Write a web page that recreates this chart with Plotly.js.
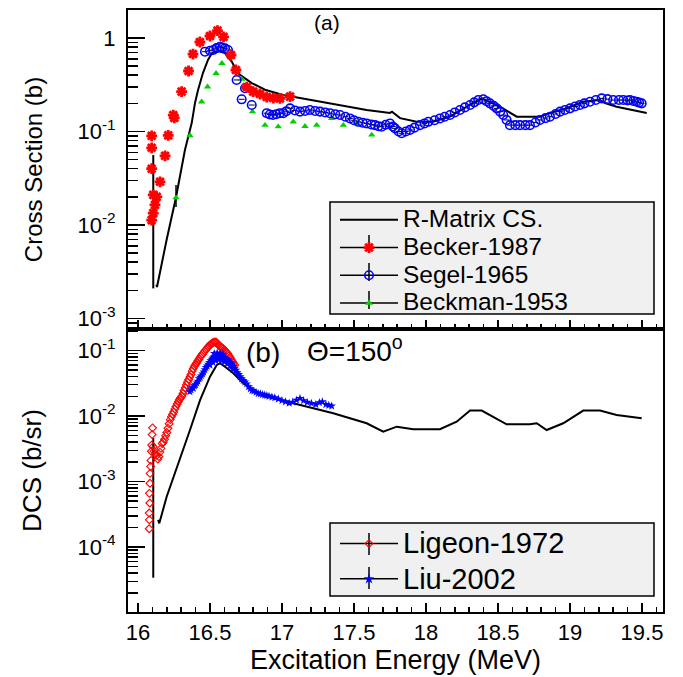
<!DOCTYPE html>
<html><head><meta charset="utf-8">
<script src="https://cdn.plot.ly/plotly-3.0.1.min.js"></script>
<style>html,body{margin:0;padding:0;background:#fff;} #chart{width:683px;height:677px;}</style>
</head><body><div id="chart"></div>
<script>
// ---------------- DATA ----------------
// Panel (a): cross sections (b)
const rmTopE  = [16.128,16.132,16.200,16.264,16.326,16.338,16.373,16.396,16.417,16.451,16.486,16.514,16.556,16.604,16.651,16.694,16.790,16.882,17.007,17.125,17.354,17.588,17.750,17.764,17.820,17.935,18.049,18.167,18.283,18.387,18.514,18.630,18.792,18.861,18.977,19.090,19.208,19.243,19.324,19.438,19.533];
const rmTopCS = [0.0023,0.00217,0.0071,0.0198,0.0634,0.0753,0.123,0.202,0.278,0.422,0.582,0.691,0.726,0.691,0.560,0.420,0.330,0.280,0.246,0.228,0.197,0.170,0.158,0.163,0.139,0.127,0.127,0.144,0.184,0.226,0.184,0.144,0.144,0.158,0.178,0.208,0.217,0.202,0.184,0.170,0.158];

const beckerE  = [16.095,16.106,16.118,16.130,16.106,16.095,16.095,16.095,16.153,16.188,16.210,16.245,16.252,16.303,16.351,16.382,16.430,16.500,16.552,16.594,16.646,16.680,16.755,16.800,16.847,16.894,16.940,16.986,17.056];
const beckerCS = [0.0113,0.0134,0.0164,0.020,0.021,0.040,0.067,0.090,0.029,0.055,0.091,0.150,0.140,0.267,0.444,0.674,0.906,1.05,1.20,1.03,0.658,0.455,0.299,0.267,0.252,0.234,0.228,0.226,0.236];
const beckerErrUp   = [0,0,0,0,0.035,0,0,0,0,0,0,0,0,0,0,0,0,0,0,0,0,0,0,0,0,0,0,0,0];
const beckerErrDown = [0,0,0,0,0.0189,0,0,0,0,0,0,0,0,0,0,0,0,0,0,0,0,0,0,0,0,0,0,0,0];

const segelE  = [16.465,16.500,16.523,16.545,16.569,16.585,16.604,16.625,16.685,16.720,16.743,16.790,16.894,16.915,16.9375,16.960,16.985,17.009,17.030,17.056,17.090,17.125,17.160,17.194,17.230,17.264,17.300,17.333,17.370,17.403,17.440,17.472,17.500,17.530,17.560,17.588,17.620,17.646,17.670,17.692,17.720,17.750,17.770,17.785,17.810,17.831,17.860,17.889,17.920,17.958,17.990,18.016,18.060,18.097,18.130,18.167,18.200,18.236,18.270,18.306,18.335,18.363,18.398,18.420,18.444,18.470,18.491,18.515,18.537,18.560,18.583,18.620,18.653,18.690,18.722,18.760,18.792,18.830,18.861,18.900,18.931,18.965,19.000,19.035,19.069,19.100,19.139,19.180,19.220,19.260,19.300,19.340,19.370,19.400,19.417,19.440,19.463,19.480,19.498];
const segelCS = [0.714,0.730,0.744,0.780,0.807,0.790,0.776,0.744,0.356,0.221,0.290,0.192,0.157,0.152,0.150,0.153,0.157,0.157,0.165,0.177,0.168,0.163,0.166,0.170,0.166,0.163,0.160,0.157,0.153,0.150,0.144,0.138,0.132,0.127,0.124,0.122,0.119,0.117,0.114,0.1125,0.118,0.122,0.113,0.108,0.100,0.0957,0.100,0.104,0.110,0.117,0.122,0.127,0.132,0.138,0.144,0.150,0.160,0.170,0.181,0.192,0.205,0.217,0.221,0.211,0.200,0.188,0.177,0.163,0.150,0.133,0.117,0.117,0.117,0.117,0.117,0.125,0.133,0.139,0.144,0.154,0.163,0.170,0.177,0.185,0.192,0.200,0.208,0.217,0.226,0.222,0.217,0.217,0.217,0.215,0.217,0.212,0.208,0.204,0.200];

const beckmanE  = [16.264,16.361,16.442,16.483,16.542,16.583,16.646,16.685,16.720,16.755,16.795,16.882,16.974,17.078,17.160,17.241,17.345,17.426,17.519,17.623];
const beckmanCS = [0.0196,0.0906,0.208,0.301,0.419,0.536,0.616,0.455,0.364,0.290,0.163,0.117,0.1125,0.127,0.1135,0.117,0.138,0.117,0.122,0.0918];
const beckmanErrUp   = [0.0072,0,0,0,0,0,0,0,0,0,0,0,0,0,0,0,0,0,0,0];
const beckmanErrDown = [0.0040,0,0,0,0,0,0,0,0,0,0,0,0,0,0,0,0,0,0,0];

// Panel (b): differential cross sections (b/sr), Theta = 150 deg
const rmBotE   = [16.140,16.148,16.199,16.292,16.361,16.431,16.500,16.547,16.569,16.604,16.662,16.731,16.824,16.940,17.078,17.217,17.356,17.472,17.588,17.703,17.797,17.912,18.097,18.213,18.306,18.387,18.467,18.560,18.722,18.769,18.838,18.953,19.092,19.208,19.324,19.440,19.498];
const rmBotDCS = [2.6e-4,2.3e-4,5.86e-4,2.2e-3,6.11e-3,0.0175,0.0398,0.0601,0.0638,0.0566,0.0449,0.0316,0.0235,0.0186,0.0156,0.0131,0.0110,0.00922,0.00774,0.00576,0.00687,0.00627,0.00627,0.00818,0.0121,0.0121,0.00975,0.00747,0.00747,0.00774,0.00611,0.00774,0.0121,0.0121,0.01035,0.00955,0.00922];

const ligeonE   = [16.078,16.079,16.078,16.082,16.079,16.083,16.084,16.088,16.090,16.093,16.095,16.098,16.101,16.106,16.112,16.120,16.130,16.138,16.145,16.152,16.160,16.168,16.176,16.184,16.192,16.200,16.208,16.216,16.224,16.232,16.240,16.248,16.256,16.264,16.272,16.280,16.288,16.296,16.304,16.312,16.320,16.328,16.336,16.344,16.352,16.360,16.368,16.376,16.384,16.392,16.400,16.408,16.416,16.424,16.432,16.440,16.448,16.456,16.464,16.472,16.480,16.488,16.496,16.504,16.512,16.520,16.528,16.536,16.544,16.552,16.560,16.568,16.576,16.584,16.592,16.600,16.608,16.616,16.624,16.632,16.640,16.648,16.656,16.664,16.672];
const ligeonDCS = [1.9e-4,2.6e-4,3.3e-4,4.7e-4,6.6e-4,9.4e-4,1.33e-3,1.7e-3,2.1e-3,2.9e-3,3.6e-3,5.2e-3,6.6e-3,3.4e-3,2.9e-3,2.6e-3,2.5e-3,2.2e-3,2.4e-3,2.8e-3,3.2e-3,3.8e-3,4.0e-3,4.4e-3,5.0e-3,5.6e-3,6.5e-3,7.6e-3,8.8e-3,9.7e-3,1.06e-2,1.15e-2,1.28e-2,1.40e-2,1.52e-2,1.65e-2,1.78e-2,1.90e-2,2.0e-2,2.2e-2,2.45e-2,2.7e-2,3.0e-2,3.3e-2,3.6e-2,3.95e-2,4.3e-2,4.85e-2,5.3e-2,5.75e-2,6.1e-2,6.5e-2,7.0e-2,7.4e-2,7.9e-2,8.4e-2,8.8e-2,9.3e-2,9.8e-2,0.103,0.108,0.114,0.119,0.124,0.128,0.131,0.134,0.135,0.134,0.128,0.121,0.116,0.113,0.110,0.106,0.101,0.097,0.093,0.089,0.083,0.078,0.072,0.068,0.064,0.060];
const ligeonErrUp   = [0,0,0,0,0,0,0,0,0,0,0,0,0,0.0012,0,0,0,0,0,0,0,0,0,0,0,0,0,0,0,0,0,0,0,0,0,0,0,0,0,0,0,0,0,0,0,0,0,0,0,0,0,0,0,0,0,0,0,0,0,0,0,0,0,0,0,0,0,0,0,0,0,0,0,0,0,0,0,0,0,0,0,0,0,0,0];
const ligeonErrDown = [0,0,0,0,0,0,0,0,0,0,0,0,0,0.003366,0,0,0,0,0,0,0,0,0,0,0,0,0,0,0,0,0,0,0,0,0,0,0,0,0,0,0,0,0,0,0,0,0,0,0,0,0,0,0,0,0,0,0,0,0,0,0,0,0,0,0,0,0,0,0,0,0,0,0,0,0,0,0,0,0,0,0,0,0,0,0];

const liuE   = [16.360,16.368,16.376,16.384,16.392,16.400,16.408,16.416,16.424,16.432,16.440,16.448,16.456,16.464,16.472,16.480,16.488,16.496,16.504,16.512,16.520,16.528,16.536,16.544,16.552,16.560,16.568,16.576,16.584,16.592,16.600,16.608,16.616,16.624,16.632,16.640,16.648,16.656,16.664,16.672,16.680,16.690,16.700,16.710,16.720,16.730,16.742,16.755,16.768,16.780,16.792,16.805,16.820,16.835,16.850,16.865,16.880,16.895,16.910,16.930,16.950,16.975,17.000,17.025,17.050,17.075,17.100,17.125,17.150,17.175,17.205,17.235,17.260,17.280,17.305,17.325,17.345,16.500,16.520,16.540,16.560,16.580,16.600,16.620,16.640,16.660,16.530,16.550,16.570,16.590];
const liuDCS = [0.0235,0.025,0.027,0.0265,0.029,0.030,0.032,0.034,0.037,0.039,0.041,0.044,0.047,0.051,0.055,0.058,0.062,0.066,0.070,0.074,0.077,0.080,0.082,0.083,0.084,0.083,0.082,0.081,0.080,0.078,0.077,0.075,0.073,0.071,0.069,0.066,0.063,0.060,0.057,0.053,0.050,0.046,0.043,0.040,0.037,0.035,0.033,0.031,0.028,0.026,0.0245,0.024,0.023,0.022,0.0218,0.0212,0.0208,0.0205,0.020,0.0195,0.019,0.0182,0.0172,0.0165,0.0157,0.0163,0.0175,0.0186,0.0172,0.0162,0.0156,0.0150,0.0160,0.0165,0.0150,0.0146,0.0142,0.060,0.066,0.070,0.072,0.070,0.067,0.063,0.058,0.052,0.090,0.092,0.090,0.088];

// Axis ticks and labels
const xTickVals = [16,16.5,17,17.5,18,18.5,19,19.5];
const xTickText = ['16','16.5','17','17.5','18','18.5','19','19.5'];
const yTopTickVals = [0.001,0.01,0.1,1];
const yTopTickText = ['10<sup>-3</sup>','10<sup>-2</sup>','10<sup>-1</sup>','1'];
const yBotTickVals = [0.0001,0.001,0.01,0.1];
const yBotTickText = ['10<sup>-4</sup>','10<sup>-3</sup>','10<sup>-2</sup>','10<sup>-1</sup>'];
const seriesNames = ['R-Matrix CS.','Becker-1987','Segel-1965','Beckman-1953','Ligeon-1972','Liu-2002'];

// ---------------- STYLE ----------------
const FONT = 'Liberation Sans, Arial, Helvetica, sans-serif';
function logMinors(lo, hi){ const v=[]; for(let e=lo;e<=hi;e++){ for(let m=2;m<=9;m++){ v.push(m*Math.pow(10,e)); } } return v; }

const RED='#ff0000', BLUE='#0000ff', GREEN='#00d000';
const mkBecker = {symbol:'asterisk', size:9, color:RED, line:{color:RED, width:2.8}};
const mkSegel  = {symbol:'circle-open', size:8.5, color:BLUE, line:{color:BLUE, width:1.6}};
const mkBeckman= {symbol:'triangle-up', size:6.5, color:GREEN, line:{width:0}};
const mkLigeon = {symbol:'diamond-open', size:6, color:RED, line:{color:RED, width:1.1}};
const mkLiu    = {symbol:'star', size:6.5, color:BLUE, line:{width:0}};

const nm = (s, fs) => '<span style="font-size:'+fs+'px">'+s+'</span>';

const traces = [
  {x:rmTopE, y:rmTopCS, type:'scatter', mode:'lines', line:{color:'#000', width:2}, xaxis:'x2', yaxis:'y', name:nm(seriesNames[0],24.5), legend:'legend', hoverinfo:'skip'},
  {x:beckmanE, y:beckmanCS, type:'scatter', mode:'markers', marker:mkBeckman, xaxis:'x2', yaxis:'y', showlegend:false,
   error_y:{type:'data', symmetric:false, array:beckmanErrUp, arrayminus:beckmanErrDown, color:'#000', thickness:1.5, width:0}},
  {x:segelE, y:segelCS, type:'scatter', mode:'markers', marker:mkSegel, xaxis:'x2', yaxis:'y', showlegend:false,
   error_x:{type:'constant', value:0.02, color:'#000', thickness:1, width:0}},
  {x:beckerE, y:beckerCS, type:'scatter', mode:'markers', marker:mkBecker, xaxis:'x2', yaxis:'y', showlegend:false,
   error_y:{type:'data', symmetric:false, array:beckerErrUp, arrayminus:beckerErrDown, color:'#000', thickness:2, width:0}},
  {x:rmBotE, y:rmBotDCS, type:'scatter', mode:'lines', line:{color:'#000', width:2}, xaxis:'x', yaxis:'y2', showlegend:false, hoverinfo:'skip'},
  {x:ligeonE, y:ligeonDCS, type:'scatter', mode:'markers', marker:mkLigeon, xaxis:'x', yaxis:'y2', showlegend:false,
   error_y:{type:'data', symmetric:false, array:ligeonErrUp, arrayminus:ligeonErrDown, color:'#000', thickness:2, width:0}},
  {x:liuE, y:liuDCS, type:'scatter', mode:'markers', marker:mkLiu, xaxis:'x', yaxis:'y2', showlegend:false},
  // legend entries (no data)
  {x:[null], y:[null], type:'scatter', mode:'lines+markers', line:{color:'#000', width:1.5}, marker:mkBecker, xaxis:'x2', yaxis:'y', name:nm(seriesNames[1],24.5), legend:'legend'},
  {x:[null], y:[null], type:'scatter', mode:'lines+markers', line:{color:'#000', width:1.5}, marker:mkSegel, xaxis:'x2', yaxis:'y', name:nm(seriesNames[2],24.5), legend:'legend'},
  {x:[null], y:[null], type:'scatter', mode:'lines+markers', line:{color:'#000', width:1.5}, marker:Object.assign({}, mkBeckman, {size:7}), xaxis:'x2', yaxis:'y', name:nm(seriesNames[3],24.5), legend:'legend'},
  {x:[null], y:[null], type:'scatter', mode:'lines+markers', line:{color:'#000', width:1.5}, marker:mkLigeon, xaxis:'x', yaxis:'y2', name:nm(seriesNames[4],29), legend:'legend2'},
  {x:[null], y:[null], type:'scatter', mode:'lines+markers', line:{color:'#000', width:1.5}, marker:Object.assign({}, mkLiu, {size:8}), xaxis:'x', yaxis:'y2', name:nm(seriesNames[5],29), legend:'legend2'}
];

const L = 128, R = 663, T = 10, B = 612, W = 683, H = 677;
const px = v => (v - L) / (R - L);
const py = v => (B - v) / (B - T);
const split = py(329);

const xCommon = {
  range:[15.9306, 19.646], tickmode:'array', tickvals:xTickVals, ticktext:xTickText,
  ticks:'inside', ticklen:9, tickwidth:1.5, tickcolor:'#000',
  minor:{ticks:'inside', ticklen:5, tickwidth:1.5, tickcolor:'#000', tickmode:'linear', tick0:16, dtick:0.1, showgrid:false},
  showline:true, linewidth:2, linecolor:'#000', mirror:true, showgrid:false, zeroline:false,
  tickfont:{family:FONT, size:22, color:'#000'}
};
const yCommon = {
  type:'log', tickmode:'array', ticks:'inside', ticklen:17, tickwidth:1.5, tickcolor:'#000',
  showline:true, linewidth:2, linecolor:'#000', mirror:true, showgrid:false, zeroline:false,
  tickfont:{family:FONT, size:22, color:'#000'}, ticklabelstandoff:6
};

// vertical error-bar strokes drawn through the legend markers
const legBar = (yc, h) => ({type:'line', xref:'paper', yref:'paper', x0:px(369), x1:px(369), y0:py(yc+h), y1:py(yc-h), line:{color:'#000', width:1.5}, layer:'above'});

const layout = {
  width:W, height:H, margin:{l:L, r:W-R, t:T, b:H-B}, paper_bgcolor:'#fff', plot_bgcolor:'#fff',
  font:{family:FONT, color:'#000'}, showlegend:true,
  xaxis: Object.assign({}, xCommon, {domain:[0,1], anchor:'y2',
    title:{text:'Excitation Energy (MeV)', font:{family:FONT, size:27, color:'#000'}, standoff:4}}),
  xaxis2: Object.assign({}, xCommon, {domain:[0,1], anchor:'y', matches:'x', showticklabels:false}),
  yaxis: Object.assign({}, yCommon, {domain:[split,1], anchor:'x2', range:[-3.112,0.2995],
    tickvals:yTopTickVals, ticktext:yTopTickText,
    minor:{ticks:'inside', ticklen:10, tickwidth:1.5, tickcolor:'#000', tickmode:'array', tickvals:logMinors(-4,0), showgrid:false},
    title:{text:'Cross Section (b)', font:{family:FONT, size:24, color:'#000'}, standoff:28}}),
  yaxis2: Object.assign({}, yCommon, {domain:[0,split], anchor:'x', range:[-4.992,-0.672],
    tickvals:yBotTickVals, ticktext:yBotTickText,
    minor:{ticks:'inside', ticklen:10, tickwidth:1.5, tickcolor:'#000', tickmode:'array', tickvals:logMinors(-6,-1), showgrid:false},
    title:{text:'DCS (b/sr)', font:{family:FONT, size:26, color:'#000'}, standoff:28}}),
  legend:{x:px(335), y:py(201), xanchor:'left', yanchor:'top', bgcolor:'rgba(0,0,0,0)', borderwidth:0,
    font:{family:FONT, size:19, color:'#000'}, itemwidth:58, tracegroupgap:0, traceorder:'normal'},
  legend2:{x:px(335), y:py(521), xanchor:'left', yanchor:'top', bgcolor:'rgba(0,0,0,0)', borderwidth:0,
    font:{family:FONT, size:24.8, color:'#000'}, itemwidth:58, tracegroupgap:0, traceorder:'normal'},
  shapes:[
    {type:'rect', xref:'paper', yref:'paper', x0:px(330), x1:px(654), y0:py(314), y1:py(202), fillcolor:'#f0f0f0', line:{color:'#000', width:1.5}, layer:'below'},
    {type:'rect', xref:'paper', yref:'paper', x0:px(330), x1:px(654), y0:py(596), y1:py(523), fillcolor:'#f0f0f0', line:{color:'#000', width:1.5}, layer:'below'},
    legBar(244, 9), legBar(272, 9), legBar(300, 9), legBar(544, 11), legBar(578, 11)
  ],
  annotations:[
    {text:'(a)', xref:'paper', yref:'paper', x:px(327), y:py(22), xanchor:'center', yanchor:'middle', showarrow:false, font:{family:FONT, size:21, color:'#000'}},
    {text:'(b)', xref:'paper', yref:'paper', x:px(263), y:py(352), xanchor:'center', yanchor:'middle', showarrow:false, font:{family:FONT, size:28, color:'#000'}},
    {text:'\u0398=150<sup>o</sup>', xref:'paper', yref:'paper', x:px(305), y:py(349), xanchor:'left', yanchor:'middle', showarrow:false, font:{family:FONT, size:28, color:'#000'}}
  ]
};

Plotly.newPlot('chart', traces, layout, {displayModeBar:false, staticPlot:true});
</script></body></html>
